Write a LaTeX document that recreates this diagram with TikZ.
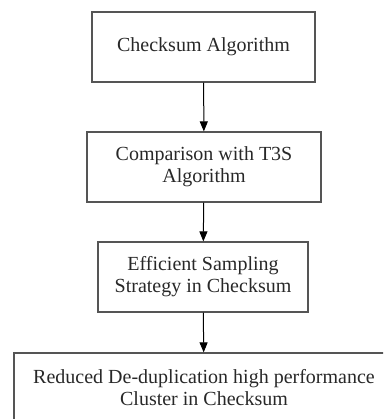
\documentclass[tikz,border=0pt]{standalone}
\usepackage{fontspec}
\setmainfont{Liberation Serif}
\usetikzlibrary{arrows.meta,positioning}
\definecolor{BoxGray}{RGB}{85,85,85}
\definecolor{TextGray}{RGB}{40,40,40}

\begin{document}
\begin{tikzpicture}[x=1pt,y=1pt,>={Triangle[length=10pt,width=8pt]},
    stage/.style={draw=BoxGray,line width=1.2pt,minimum height=70pt,inner sep=0pt,
      align=center,text=TextGray,font=\fontsize{20}{22}\selectfont},
    flow/.style={->,line width=1pt}]
      \useasboundingbox (0,0) rectangle (383,-419);
      \clip (0,0) rectangle (383,-419);
      \node[stage,minimum width=223pt] (check) at (203.5,-47) {Checksum Algorithm};
      \node[stage,minimum width=234pt] (compare) at (204,-167) {Comparison with T3S\\Algorithm};
      \node[stage,minimum width=210pt] (sampling) at (203,-277) {Efficient Sampling\\Strategy in Checksum};
      \node[stage,minimum width=380pt] (cluster) at (204,-388) {Reduced De-duplication high performance\\Cluster in Checksum};
      \draw[flow] (check) -- (compare);
      \draw[flow] (compare) -- (sampling);
      \draw[flow] (sampling) -- (cluster);
    \end{tikzpicture}
\end{document}
